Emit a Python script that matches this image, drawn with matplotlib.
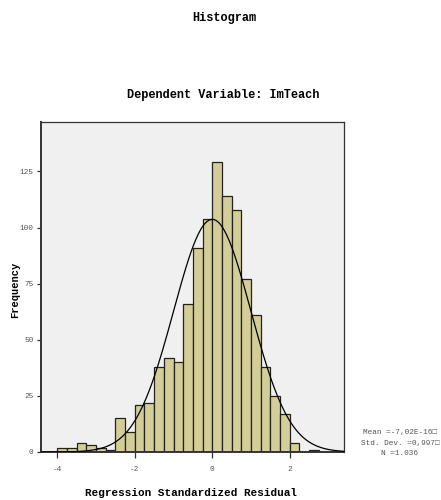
import matplotlib
matplotlib.use("Agg")
import matplotlib.pyplot as plt
import numpy as np

# residual histogram, bins of 0.25 starting at -4
bin_start = -4.0
bin_width = 0.25
counts = [2, 2, 4, 3, 2, 1, 15, 9, 21, 22, 38, 42, 40, 66, 91, 104,
          129, 114, 108, 77, 61, 38, 25, 17, 4, 0, 1]
x_ticks = [-4, -2, 0, 2]
y_ticks = [0, 25, 50, 75, 100, 125]

mean = -7.02e-16
std_dev = 0.997
n_obs = 1036

mono = ["Liberation Mono", "DejaVu Sans Mono"]

fig = plt.figure(figsize=(4.41, 5.0), dpi=100)
ax = fig.add_axes([0.093, 0.096, 0.687, 0.660])
ax.set_facecolor("#f0f0f0")

edges = bin_start + bin_width * np.arange(len(counts))
ax.bar(edges, counts, width=bin_width, align="edge",
       color="#d3ce97", edgecolor="#222222", linewidth=0.9, zorder=2)

# normal curve scaled to the counts
xs = np.linspace(-4.42, 3.40, 400)
ys = n_obs * bin_width / (std_dev * np.sqrt(2 * np.pi)) * np.exp(-0.5 * ((xs - mean) / std_dev) ** 2)
ax.plot(xs, ys, color="black", linewidth=0.9, zorder=3)

ax.set_xlim(-4.42, 3.40)
ax.set_ylim(0, 147)
ax.set_xticks(x_ticks)
ax.set_yticks(y_ticks)
ax.set_xticklabels([str(t) for t in x_ticks])
ax.set_yticklabels([str(t) for t in y_ticks])
ax.tick_params(axis="both", direction="out", width=0.9, color="#333333",
               labelsize=5.6, labelcolor="#555555")
ax.tick_params(axis="x", length=4, pad=6)
ax.tick_params(axis="y", length=3, pad=2.5)
for lab in ax.get_xticklabels() + ax.get_yticklabels():
    lab.set_family(mono)
for sp in ax.spines.values():
    sp.set_color("#333333")
    sp.set_linewidth(0.9)
ax.spines["left"].set_linewidth(1.4)
ax.spines["bottom"].set_linewidth(1.4)

fig.text(0.508, 0.963, "Histogram", ha="center", va="center",
         family=mono, fontweight="bold", fontsize=8.6)
fig.text(0.505, 0.810, "Dependent Variable: ImTeach", ha="center", va="center",
         family=mono, fontweight="bold", fontsize=8.6)
fig.text(0.034, 0.42, "Frequency", ha="center", va="center", rotation=90,
         family=mono, fontweight="bold", fontsize=7.5)
fig.text(0.433, 0.014, "Regression Standardized Residual", ha="center", va="center",
         family=mono, fontweight="bold", fontsize=7.9)

stats = "Mean =-7,02E-16\u25a1\nStd. Dev. =0,997\u25a1\nN =1.036"
fig.text(0.907, 0.114, stats, ha="center", va="center", family=mono,
         fontsize=5.6, color="#555555", linespacing=1.65, multialignment="center")

fig.savefig("out.png", dpi=100)
